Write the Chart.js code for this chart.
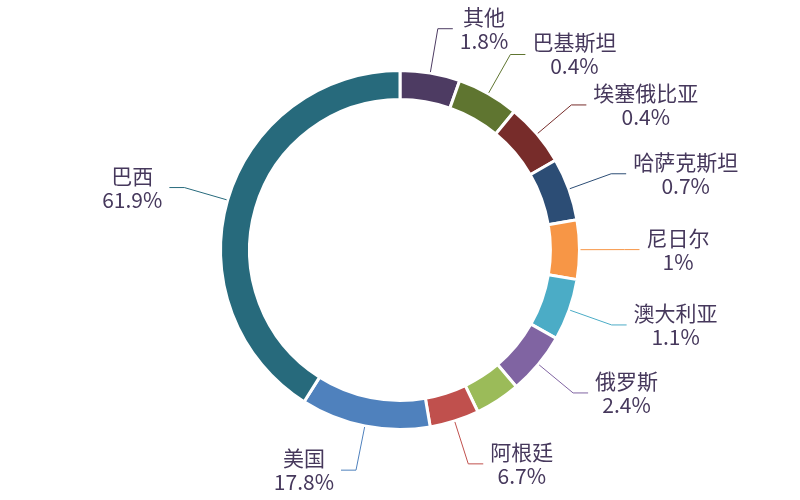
<!DOCTYPE html>
<html>
<head>
<meta charset="utf-8">
<script src="https://cdn.jsdelivr.net/npm/chart.js@4.4.1/dist/chart.umd.min.js"></script>
<style>
html, body { margin: 0; padding: 0; background: #fff; }
#wrap { width: 800px; height: 500px; }
</style>
</head>
<body>
<div id="wrap"><canvas id="chart" width="800" height="500"></canvas></div>
<script>
// categories, clockwise from 12 o'clock (one slice has no label in the picture)
const countries = ['其他', '巴基斯坦', '埃塞俄比亚', '哈萨克斯坦', '尼日尔', '澳大利亚', '俄罗斯', '', '阿根廷', '美国', '巴西'];
const shareLabels = ['1.8%', '0.4%', '0.4%', '0.7%', '1%', '1.1%', '2.4%', null, '6.7%', '17.8%', '61.9%'];
// size of each slice as drawn (degrees of the ring)
const sliceDegrees = [19.4, 20.1, 20.5, 20.3, 19.2, 20.0, 20.1, 14.7, 16.0, 42.0, 147.7];

const sliceColors = ['#4d3b62', '#5f7530', '#772c2a', '#2c4d75', '#f79646', '#4bacc6', '#8064a2', '#9bbb59', '#c0504d', '#4f81bd', '#276a7c'];
const textColor = '#46385c';

// draws the leader lines and the two-line labels outside the ring
const calloutLabels = {
    id: 'calloutLabels',
    afterDatasetsDraw(chart) {
        const ctx = chart.ctx;
        const meta = chart.getDatasetMeta(0);
        ctx.save();
        ctx.font = '21px "Noto Sans CJK SC"';
        ctx.textBaseline = 'middle';
        ctx.textAlign = 'center';
        meta.data.forEach((arc, i) => {
            if (!shareLabels[i]) return;
            const p = arc.getProps(['x', 'y', 'startAngle', 'endAngle', 'outerRadius'], true);
            const mid = (p.startAngle + p.endAngle) / 2;
            const cos = Math.cos(mid), sin = Math.sin(mid);
            const x0 = p.x + cos * (p.outerRadius + 1);
            const y0 = p.y + sin * (p.outerRadius + 1);
            const x1 = p.x + cos * (p.outerRadius + 45);
            const y1 = p.y + sin * (p.outerRadius + 45);
            const dir = cos >= 0 ? 1 : -1;
            const x2 = x1 + dir * 15;

            ctx.strokeStyle = sliceColors[i];
            ctx.lineWidth = 1;
            ctx.beginPath();
            ctx.moveTo(x0, y0);
            ctx.lineTo(x1, y1);
            ctx.lineTo(x2, y1);
            ctx.stroke();

            const lines = [countries[i], shareLabels[i]];
            const w = Math.max(...lines.map(t => ctx.measureText(t).width));
            const cx = dir > 0 ? x2 + 7 + w / 2 : x2 - 7 - w / 2;
            ctx.fillStyle = textColor;
            ctx.fillText(lines[0], cx, y1 - 12);
            ctx.fillText(lines[1], cx, y1 + 12);
        });
        ctx.restore();
    }
};

new Chart(document.getElementById('chart'), {
    type: 'doughnut',
    data: {
        labels: countries,
        datasets: [{
            data: sliceDegrees,
            backgroundColor: sliceColors,
            borderColor: '#ffffff',
            borderWidth: 3,
            radius: 179.5,
            cutout: '83.8%'
        }]
    },
    options: {
        responsive: false,
        animation: false,
        layout: { padding: 0 },
        plugins: {
            legend: { display: false },
            tooltip: { enabled: false }
        }
    },
    plugins: [calloutLabels]
});
</script>
</body>
</html>
